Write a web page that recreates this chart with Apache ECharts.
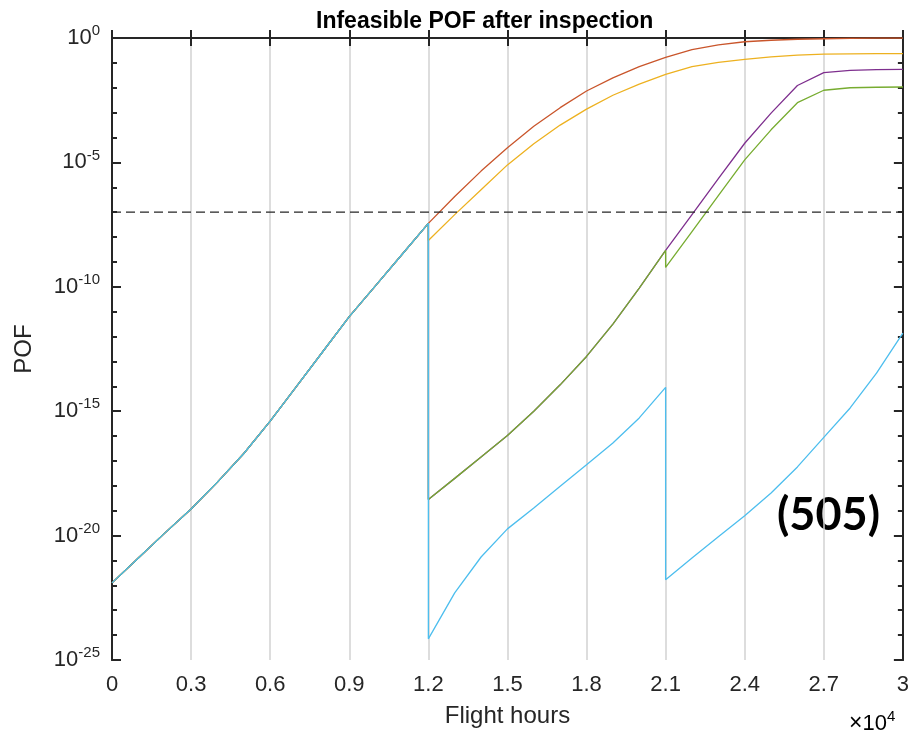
<!DOCTYPE html>
<html>
<head>
<meta charset="utf-8">
<title>Infeasible POF after inspection</title>
<script src="https://cdn.jsdelivr.net/npm/echarts@6/dist/echarts.min.js"></script>
<style>
  html, body { margin: 0; padding: 0; background: #fff; }
  #chart { width: 912px; height: 740px; }
</style>
</head>
<body>
<div id="chart"></div>
<script>
// flight hours, one point every 1000 h
const hours = [0, 1000, 2000, 3000, 4000, 5000, 6000, 7000, 8000, 9000, 10000,
  11000, 12000, 13000, 14000, 15000, 16000, 17000, 18000, 19000, 20000,
  21000, 22000, 23000, 24000, 25000, 26000, 27000, 28000, 29000, 30000];

// POF, stored as log10 exponents (y axis is log10 POF)
// shared part, 0..12000 h
const commonPOF = [-21.9, -20.9, -19.9, -18.93, -17.85, -16.7, -15.4, -14.0, -12.6, -11.2, -9.95, -8.7, -7.45];
// no repair, 13000..30000 h
const redPOF = [-6.37, -5.35, -4.41, -3.55, -2.8, -2.13, -1.6, -1.15, -0.78, -0.47, -0.28, -0.15, -0.09, -0.05, -0.03, -0.01, 0, 0];
// 12000..30000 h
const yellowPOF = [-8.14, -7.1, -6.1, -5.1, -4.25, -3.5, -2.86, -2.3, -1.85, -1.46, -1.15, -0.98, -0.86, -0.76, -0.69, -0.65, -0.64, -0.63, -0.63];
// purple and green share 12000..21000 h
const midPOF = [-18.55, -17.7, -16.84, -15.98, -15.0, -13.94, -12.8, -11.5, -10.05, -8.54];
// 22000..30000 h
const purplePOF = [-7.1, -5.65, -4.23, -3.02, -1.91, -1.39, -1.3, -1.27, -1.26];
// 21000..30000 h
const greenPOF = [-9.22, -7.78, -6.34, -4.9, -3.69, -2.6, -2.1, -2.0, -1.98, -1.97];
// 12000..21000 h and 21000..30000 h
const bluePOF1 = [-24.15, -22.3, -20.86, -19.73, -18.89, -18.02, -17.15, -16.28, -15.27, -14.04];
const bluePOF2 = [-21.77, -20.9, -20.05, -19.2, -18.29, -17.24, -16.05, -14.87, -13.47, -11.86];

const thresholdExp = -7;      // 1e-7
const yMin = -25, yMax = 0, yStep = 5, yMinorStep = 1;

function seg(startHour, exps) {
  const k = hours.indexOf(startHour);
  return exps.map((e, i) => [hours[k + i], e]);
}
const common = seg(0, commonPOF);

const font = "'Liberation Sans', Arial, Helvetica, sans-serif";
const axisColor = '#262626';

const chart = echarts.init(document.getElementById('chart'));

// major / minor tick axes, left and right (box on)
function yAxisDef(pos, step, tickLen, labels) {
  const ax = {
    type: 'value',
    position: pos,
    min: yMin,
    max: yMax,
    interval: step,
    axisLine: { show: true, lineStyle: { color: axisColor, width: 2 } },
    axisTick: { show: true, inside: true, length: tickLen, lineStyle: { color: axisColor, width: 2 } },
    splitLine: { show: false },
    axisLabel: { show: false }
  };
  if (labels) {
    ax.axisLabel = {
      show: true,
      margin: 12,
      formatter: v => '{b|10}{s|' + v + '}',
      rich: {
        b: { fontFamily: font, fontSize: 22, color: axisColor },
        s: { fontFamily: font, fontSize: 15, color: axisColor, padding: [0, 0, 14, 0] }
      }
    };
    ax.name = 'POF';
    ax.nameLocation = 'middle';
    ax.nameGap = 76;
    ax.nameTextStyle = { fontFamily: font, fontSize: 24, color: axisColor };
  }
  return ax;
}

function line(name, color, data) {
  return {
    name: name, type: 'line', data: data, showSymbol: false, symbol: 'none',
    lineStyle: { color: color, width: 1.3 }, itemStyle: { color: color },
    xAxisIndex: 0, yAxisIndex: 0, animation: false
  };
}

chart.setOption({
  animation: false,
  title: {
    text: 'Infeasible POF after inspection',
    left: 311,
    top: 5,
    textStyle: { fontFamily: font, fontSize: 23, fontWeight: 'bold', color: '#000' }
  },
  grid: { left: 112, right: 9, top: 38, bottom: 80 },
  xAxis: [
    {
      type: 'value', min: 0, max: 30000, interval: 3000, position: 'bottom',
      name: 'Flight hours', nameLocation: 'middle', nameGap: 44,
      nameTextStyle: { fontFamily: font, fontSize: 24, color: axisColor },
      axisLine: { lineStyle: { color: axisColor, width: 2 } },
      axisTick: { inside: true, length: 8, lineStyle: { color: axisColor, width: 2 } },
      splitLine: { show: true, lineStyle: { color: '#d2d2d2', width: 1.5 } },
      axisLabel: {
        margin: 14, fontFamily: font, fontSize: 22, color: axisColor,
        formatter: v => String(parseFloat((v / 10000).toFixed(1)))
      }
    },
    {
      type: 'value', min: 0, max: 30000, interval: 3000, position: 'top',
      axisLine: { lineStyle: { color: axisColor, width: 2 } },
      axisTick: { inside: true, length: 8, lineStyle: { color: axisColor, width: 2 } },
      splitLine: { show: false },
      axisLabel: { show: false }
    }
  ],
  yAxis: [
    yAxisDef('left', yStep, 9, true),
    yAxisDef('left', yMinorStep, 5, false),
    yAxisDef('right', yStep, 9, false),
    yAxisDef('right', yMinorStep, 5, false)
  ],
  graphic: [
    {
      type: 'text', left: 849, top: 709,
      style: {
        text: '{x|\u00d7}{b|10}{s|4}',
        rich: {
          x: { fontFamily: font, fontSize: 23, color: axisColor },
          b: { fontFamily: font, fontSize: 22, color: axisColor },
          s: { fontFamily: font, fontSize: 15, color: axisColor, padding: [0, 0, 14, 0] }
        }
      }
    },
    {
      type: 'text', left: 777, top: 493,
      style: { text: '(505)', fontFamily: "Lato, 'Open Sans', sans-serif", fontWeight: 'bold', fontSize: 45, fill: '#000' }
    }
  ],
  series: [
    line('No inspection', '#C9552B', common.concat(seg(13000, redPOF))),
    line('Case 2', '#EDB120', common.concat(seg(12000, yellowPOF))),
    line('Case 3', '#7E2F8E', common.concat(seg(12000, midPOF), seg(22000, purplePOF))),
    line('Case 4', '#77AC30', common.concat(seg(12000, midPOF), seg(21000, greenPOF))),
    line('Case 5', '#4DBEEE', common.concat(seg(12000, bluePOF1), seg(21000, bluePOF2))),
    {
      name: 'Threshold', type: 'line', symbol: 'none', animation: false,
      data: [[hours[0], thresholdExp], [hours[hours.length - 1], thresholdExp]],
      lineStyle: { color: '#262626', width: 1.4, type: [9, 5] }
    }
  ]
});
</script>
</body>
</html>
